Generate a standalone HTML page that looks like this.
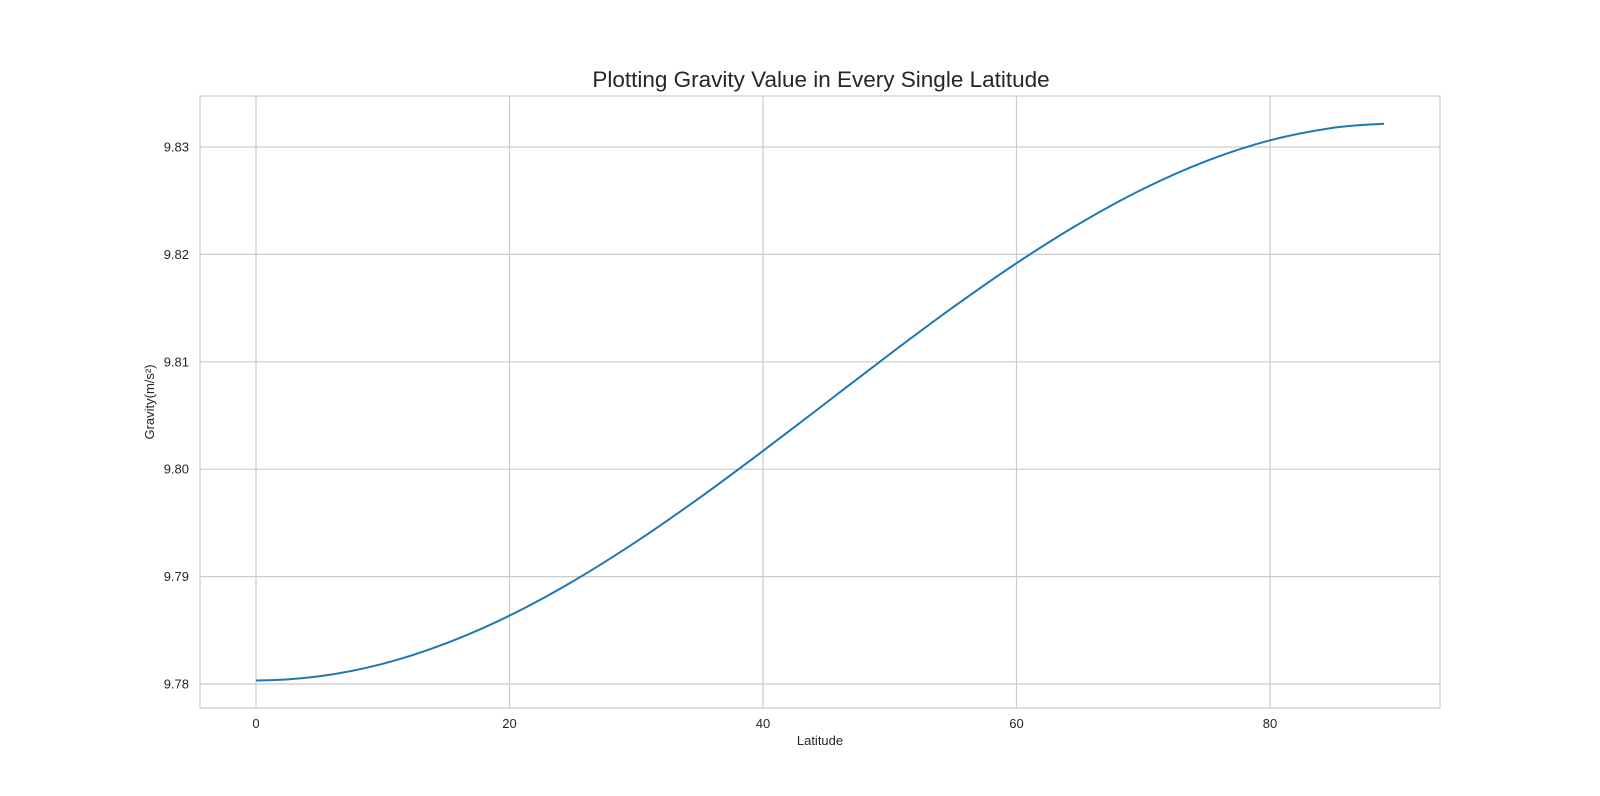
<!DOCTYPE html>
<html><head><meta charset="utf-8"><style>
html,body{margin:0;padding:0;background:#fff;}
svg{display:block;font-family:"Liberation Sans",Arial,sans-serif;}
</style></head><body>
<svg id="chart" width="1600" height="796">
<text x="821" y="87" text-anchor="middle" font-size="22.5" fill="#262626">Plotting Gravity Value in Every Single Latitude</text>
<g id="grid"></g>
<g id="ticks"></g>
<rect x="200" y="96" width="1240" height="612" fill="none" stroke="#cccccc" stroke-width="1.2"/>
<path id="line" fill="none" stroke="#1f77b4" stroke-width="2"/>
<text x="820" y="745" text-anchor="middle" font-size="13" fill="#262626">Latitude</text>
<text x="0" y="0" transform="translate(154,402) rotate(-90)" text-anchor="middle" font-size="13" fill="#262626">Gravity(m/s²)</text>
</svg>
<script>
const latitudes=[0,5,10,15,20,25,30,35,40,45,50,55,60,65,70,75,80,85,89];
const gravity=[9.78033,9.78072,9.78188,9.78379,9.78637,9.78956,9.79325,9.79734,9.80170,9.80620,9.81071,9.81508,9.81918,9.82289,9.82610,9.82870,9.83062,9.83179,9.83217];
const xTicks=[0,20,40,60,80];
const yTicks=[9.78,9.79,9.80,9.81,9.82,9.83];
const yTickLabels=["9.78","9.79","9.80","9.81","9.82","9.83"];
const NS="http://www.w3.org/2000/svg";
function xs(v){return 256+(v-0)*(1270-256)/80;}
function ys(v){return 684-(v-9.78)*(684-147)/0.05;}
const grid=document.getElementById('grid'),ticks=document.getElementById('ticks');
xTicks.forEach(t=>{
 const l=document.createElementNS(NS,'line');
 l.setAttribute('x1',xs(t));l.setAttribute('x2',xs(t));l.setAttribute('y1',96);l.setAttribute('y2',708);
 l.setAttribute('stroke','#cccccc');l.setAttribute('stroke-width','1.2');
 
 
 grid.appendChild(l);
 const tx=document.createElementNS(NS,'text');
 tx.setAttribute('x',xs(t));tx.setAttribute('y',728);tx.setAttribute('text-anchor','middle');
 tx.setAttribute('font-size','13');tx.setAttribute('fill','#262626');tx.textContent=t;
 
 
 ticks.appendChild(tx);
});
yTicks.forEach((t,i)=>{
 const l=document.createElementNS(NS,'line');
 l.setAttribute('x1',200);l.setAttribute('x2',1440);l.setAttribute('y1',ys(t));l.setAttribute('y2',ys(t));
 l.setAttribute('stroke','#cccccc');l.setAttribute('stroke-width','1.2');
 
 
 grid.appendChild(l);
 const tx=document.createElementNS(NS,'text');
 tx.setAttribute('x',189);tx.setAttribute('y',ys(t)+4.5);tx.setAttribute('text-anchor','end');
 tx.setAttribute('font-size','13');tx.setAttribute('fill','#262626');tx.textContent=yTickLabels[i];
 
 
 ticks.appendChild(tx);
});
const P=latitudes.map((v,i)=>[xs(v),ys(gravity[i])]);
let d='M'+P[0][0]+','+P[0][1];
for(let i=0;i<P.length-1;i++){
 const p0=i===0?[2*P[0][0]-P[1][0],P[1][1]]:P[i-1],p1=P[i],p2=P[i+1],p3=P[Math.min(P.length-1,i+2)];
 const c1=[p1[0]+(p2[0]-p0[0])/6,p1[1]+(p2[1]-p0[1])/6];
 const c2=[p2[0]-(p3[0]-p1[0])/6,p2[1]-(p3[1]-p1[1])/6];
 d+=' C'+c1[0]+','+c1[1]+' '+c2[0]+','+c2[1]+' '+p2[0]+','+p2[1];
}
document.getElementById('line').setAttribute('d',d);
</script>
</body></html>
